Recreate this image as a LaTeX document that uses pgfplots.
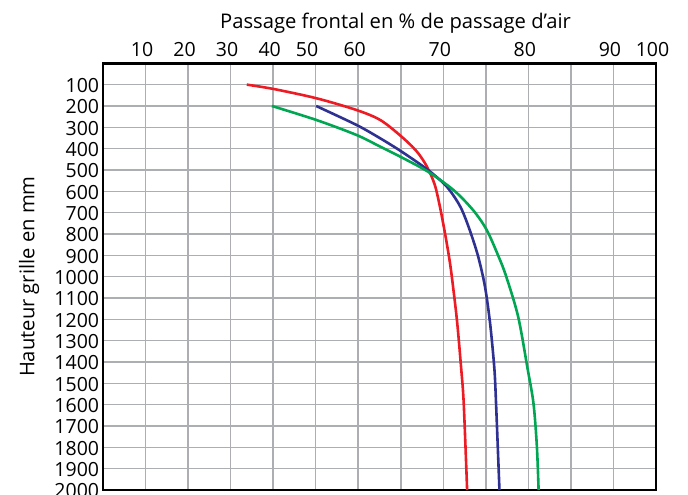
\documentclass[border=0pt]{standalone}
\usepackage{pgfplots}
\pgfplotsset{compat=1.18}
\usepackage{fontspec}
\setmainfont{Open Sans}

\definecolor{gridgray}{RGB}{172,174,178}
\definecolor{cred}{RGB}{237,28,36}
\definecolor{cblue}{RGB}{46,49,146}
\definecolor{cgreen}{RGB}{0,166,81}

\begin{document}
\begin{tikzpicture}
\begin{axis}[
    name=ax,
    scale only axis,
    width=553pt, height=426.7pt,
    xmin=0, xmax=100,
    ymin=0, ymax=2000,
    y dir=reverse,
    % the % scale of the original is not linear: 10 per cell up to 60, then 5 per cell, last cell 10
    x coord trafo/.code={\pgfmathparse{(#1)<=60 ? (#1)/10 : ((#1)<=90 ? 6+((#1)-60)/5 : 12+((#1)-90)/10)}},
    x coord inv trafo/.code={\pgfmathparse{(#1)<=6 ? (#1)*10 : ((#1)<=12 ? 60+((#1)-6)*5 : 90+((#1)-12)*10)}},
    xtick={10,20,30,40,48.8,60,70,80,90,100},
    xticklabels={10,20,30,40,50,60,70,80,90,100},
    minor xtick={10,20,30,40,50,60,65,70,75,80,85,90},
    ytick={100,200,...,2000},
    xticklabel pos=upper,
    major tick length=0pt, minor tick length=0pt,
    xmajorgrids=false, xminorgrids=true, ymajorgrids=true,
    grid style={gridgray, line width=1.6pt},
    minor grid style={gridgray, line width=1.6pt},
    axis line style={black, line width=2.5pt},
    /pgf/number format/assume math mode=true,
    /pgf/number format/1000 sep={},
    tick label style={font=\fontsize{19.5}{22}\selectfont},
    xticklabel style={anchor=base, inner sep=0pt, xshift=-3.5pt, yshift=6.6pt},
    yticklabel style={anchor=east, inner sep=0pt, xshift=-3.7pt, yshift=-1pt},
    xlabel={Passage frontal en \% de passage d’air},
    ylabel={Hauteur grille en mm},
    label style={font=\fontsize{20.2}{23}\selectfont},
    xlabel style={at={(axis description cs:0.529,1)}, anchor=base, inner sep=0pt, yshift=35pt},
    ylabel style={at={(axis description cs:-0.1242,0.5)}, anchor=base, inner sep=0pt},
    every axis plot/.append style={line width=2.6pt, smooth, tension=0.5},
]
\addplot[cred] coordinates {
    (33.8,100) (40.0,120) (50.2,164) (59.6,219) (62.6,266) (65.1,344) (66.9,414)
    (68.1,486) (69.0,570) (69.6,672) (70.2,797) (70.7,914) (71.0,1000)
    (71.6,1203) (72.1,1430) (72.4,1594) (72.8,2000)
};
\addplot[cblue] coordinates {
    (50.1,200) (59.6,289) (62.6,352) (65.1,414) (68.2,500) (70.4,578) (72.0,672)
    (73.1,781) (74.1,906) (74.9,1047) (75.5,1219) (76.0,1430) (76.2,1594) (76.6,2000)
};
\addplot[cgreen] coordinates {
    (39.7,200) (50.2,266) (59.6,336) (62.6,391) (65.1,441) (68.2,508) (71.2,594)
    (73.5,688) (75.1,781) (76.5,906) (77.4,1000) (78.8,1188) (79.9,1430) (80.6,1594)
    (81.0,1797) (81.2,2000)
};
\end{axis}
\pgfresetboundingbox
\path[use as bounding box] ([xshift=-103pt,yshift=-5pt]ax.south west) rectangle ([xshift=32pt,yshift=63.3pt]ax.north east);
\end{tikzpicture}
\end{document}
